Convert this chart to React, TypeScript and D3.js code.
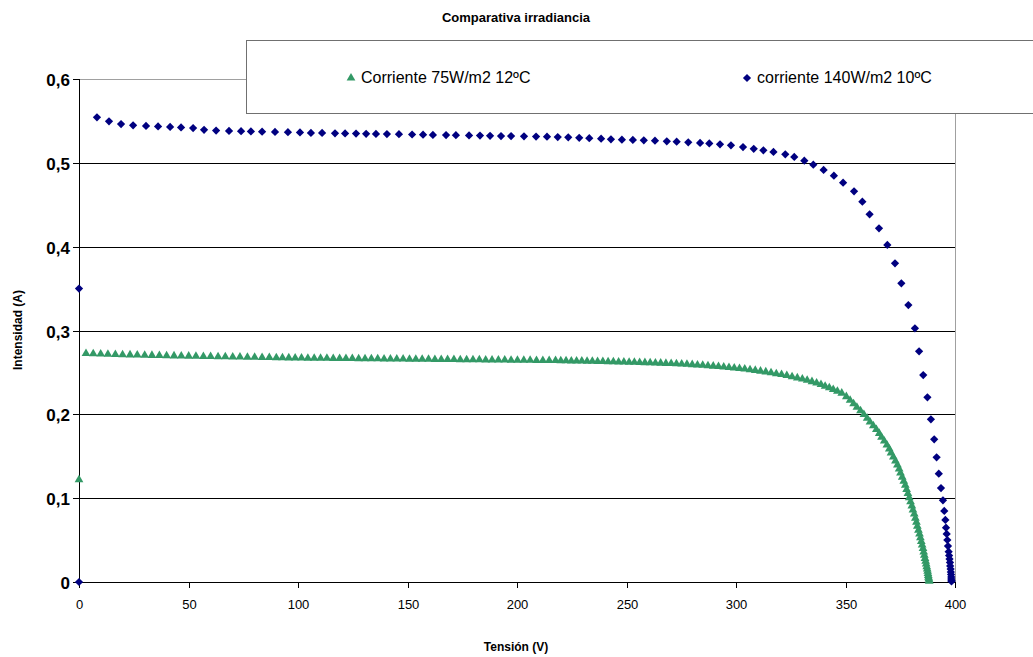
import * as d3 from 'd3'

const W = 1033
const H = 657

const TITLE = 'Comparativa irradiancia'
const X_TITLE = 'Tensión (V)'
const Y_TITLE = 'Intensidad (A)'
const X_TICKS = [0, 50, 100, 150, 200, 250, 300, 350, 400]
const Y_TICKS = [0, 0.1, 0.2, 0.3, 0.4, 0.5, 0.6]

const LABEL_75 = 'Corriente 75W/m2 12ºC'
const LABEL_140 = 'corriente 140W/m2 10ºC'

// [tensión V, intensidad A]
const corriente75: [number, number][] = [
  [0, 0.122],
  [3.2, 0.2725], [6.5, 0.2722], [9.9, 0.2719], [13.2, 0.2716], [16.6, 0.2714], [19.9, 0.2711], [23.3, 0.2709],
  [26.6, 0.2707], [30.0, 0.2705], [33.3, 0.2703], [36.7, 0.2701], [40.0, 0.2699], [43.4, 0.2697], [46.7, 0.2695],
  [50.1, 0.2694], [53.4, 0.2692], [56.8, 0.269], [60.1, 0.2689], [63.5, 0.2687], [66.8, 0.2686], [70.2, 0.2684],
  [73.5, 0.2683], [76.9, 0.2681], [80.2, 0.268], [83.6, 0.2678], [86.9, 0.2677], [90.1, 0.2675],
  [92.9, 0.2674], [95.8, 0.2673], [98.7, 0.2672], [101.6, 0.2671], [104.5, 0.267], [107.4, 0.267], [110.3, 0.2669],
  [113.2, 0.2668], [116.1, 0.2667], [119.0, 0.2666], [121.9, 0.2666], [124.8, 0.2665], [127.7, 0.2664], [130.6, 0.2663],
  [133.5, 0.2662], [136.4, 0.2662], [139.3, 0.2661], [142.2, 0.266], [145.1, 0.2659], [148.0, 0.2659], [150.9, 0.2658],
  [153.8, 0.2657], [156.7, 0.2656], [159.6, 0.2656], [162.5, 0.2655], [165.4, 0.2654], [168.3, 0.2653], [171.2, 0.2653],
  [174.1, 0.2652], [177.0, 0.2651], [179.9, 0.265], [182.8, 0.265], [185.7, 0.2649], [188.6, 0.2648], [191.5, 0.2647],
  [194.4, 0.2647], [197.3, 0.2646], [200.2, 0.2645], [203.1, 0.2645], [206.0, 0.2644], [208.9, 0.2643], [211.8, 0.2643],
  [214.7, 0.2642], [217.6, 0.2641],
  [220.0, 0.264], [222.4, 0.2639], [224.8, 0.2637], [227.2, 0.2636], [229.6, 0.2635], [232.0, 0.2633], [234.4, 0.2632],
  [236.8, 0.2631], [239.2, 0.2629], [241.6, 0.2628], [244.0, 0.2626], [246.4, 0.2625], [248.8, 0.2624], [251.2, 0.2622],
  [253.6, 0.2621], [256.0, 0.2619], [258.4, 0.2617], [260.8, 0.2615], [263.2, 0.2613], [265.6, 0.2611], [268.0, 0.2608],
  [270.4, 0.2606], [272.8, 0.2603], [275.2, 0.26], [277.6, 0.2597], [280.0, 0.2593], [282.4, 0.2589], [284.8, 0.2585],
  [287.2, 0.258], [289.6, 0.2575], [292.0, 0.257], [294.4, 0.2565], [296.8, 0.2559], [299.2, 0.2553], [301.6, 0.2547],
  [304.0, 0.254], [306.4, 0.2532], [308.8, 0.2524], [311.2, 0.2515], [313.6, 0.2506], [316.0, 0.2496], [318.4, 0.2485],
  [320.8, 0.2474], [323.2, 0.2462], [325.6, 0.2449], [328.0, 0.2435], [330.3, 0.2421], [332.5, 0.2406], [334.7, 0.239],
  [336.8, 0.2373], [338.8, 0.2355], [340.7, 0.2336], [342.6, 0.2316], [344.4, 0.2296], [346.3, 0.2275], [348.3, 0.2253],
  [350.4, 0.2211], [352.1, 0.2169], [353.7, 0.2127], [355.2, 0.2085], [356.85, 0.2042], [358.4, 0.1998], [359.9, 0.1954],
  [361.2, 0.1909], [362.7, 0.1864], [364.1, 0.1819], [365.4, 0.1773], [366.45, 0.1727], [367.7, 0.1681], [368.9, 0.1634],
  [370.0, 0.1587], [370.8, 0.154], [371.85, 0.1492], [372.8, 0.1444], [373.7, 0.1396], [374.5, 0.1348], [375.1, 0.13],
  [375.9, 0.1251], [376.6, 0.1202], [377.3, 0.1153], [377.9, 0.1104], [378.5, 0.1055], [379.1, 0.1006], [379.7, 0.0957],
  [380.3, 0.0908], [380.8, 0.0859], [381.4, 0.081], [381.9, 0.0762], [382.4, 0.0714], [382.8, 0.0666], [383.3, 0.0619],
  [383.8, 0.0573], [384.2, 0.0528], [384.6, 0.0484], [385.0, 0.0441], [385.4, 0.0399], [385.7, 0.0358], [386.0, 0.0319],
  [386.3, 0.0282], [386.6, 0.0247], [386.85, 0.0214], [387.1, 0.0183], [387.3, 0.0154], [387.5, 0.0127], [387.65, 0.0102],
  [387.8, 0.0079], [387.9, 0.0058], [388.05, 0.0039], [388.15, 0.0022], [388.25, 0.0008],
]

const corriente140: [number, number][] = [
  [0, 0.35], [0, 0],
  [8.2, 0.5543], [13.7, 0.5496], [19.2, 0.5463], [24.7, 0.5448], [30.6, 0.544], [36.1, 0.5434], [41.6, 0.5428],
  [46.6, 0.5422], [52.1, 0.5415], [57.1, 0.5394], [62.6, 0.5385], [68.5, 0.538], [74.0, 0.5377], [78.5, 0.5374],
  [83.6, 0.5371], [89.5, 0.5368], [95.4, 0.5365], [100.9, 0.5362], [105.9, 0.5357], [111.0, 0.5356], [116.9, 0.5352],
  [121.5, 0.5351], [126.5, 0.5349], [131.1, 0.5346], [135.6, 0.5345], [140.6, 0.5343], [146.1, 0.5341], [152.1, 0.5338],
  [157.1, 0.5336], [161.6, 0.5333], [167.6, 0.5331], [172.1, 0.533], [178.1, 0.5327], [183.1, 0.5325], [187.7, 0.5323],
  [192.7, 0.532], [197.3, 0.5319], [203.2, 0.5317], [208.7, 0.5314], [213.7, 0.5312], [218.6, 0.5308], [223.4, 0.5305],
  [228.4, 0.5298], [233.0, 0.5294], [238.4, 0.5288], [242.9, 0.5281], [247.9, 0.5276], [252.9, 0.5273], [257.9, 0.5269],
  [263.0, 0.5264], [268.4, 0.5257], [272.9, 0.5252], [278.2, 0.5245], [283.6, 0.5237], [287.8, 0.5231], [292.7, 0.5221],
  [297.7, 0.5209], [303.2, 0.5188], [308.1, 0.5167], [312.5, 0.515], [317.1, 0.513], [322.5, 0.5102], [326.6, 0.507],
  [331.2, 0.5026], [335.3, 0.4978], [340.0, 0.4915], [344.7, 0.4847], [348.9, 0.4763], [353.9, 0.4661], [357.7, 0.4537],
  [361.0, 0.4386], [365.3, 0.4219], [369.1, 0.402], [372.6, 0.3802], [375.5, 0.3563], [378.7, 0.3304], [381.7, 0.3026],
  [383.6, 0.2752], [385.5, 0.2469], [387.4, 0.2203], [389.0, 0.1941], [390.5, 0.1702], [391.6, 0.1488], [392.6, 0.1292],
  [393.6, 0.1121], [394.5, 0.0975], [395.1, 0.0847], [395.6, 0.074], [395.9, 0.0648], [396.2, 0.0573], [396.5, 0.0501],
  [396.8, 0.0429], [397.1, 0.0361], [397.3, 0.0316], [397.5, 0.0274], [397.7, 0.0233], [397.8, 0.0191], [398.0, 0.0155],
  [398.1, 0.0119], [398.2, 0.0089], [398.3, 0.006], [398.3, 0.0036], [398.4, 0.0018], [398.4, 0.0006],
]

const GREEN = '#339966'
const NAVY = '#000080'
const FONT = '"Liberation Sans", Arial, sans-serif'

const plot = { left: 79, right: 955, top: 79, bottom: 582 }

export default function App() {
  const x = d3.scaleLinear().domain([0, 400]).range([plot.left, plot.right])
  const y = d3.scaleLinear().domain([0, 0.6]).range([plot.bottom, plot.top])

  const tri = d3.symbol(d3.symbolTriangle, 33)()!
  const dia = d3.symbol(d3.symbolSquare, 34)()!
  const fmtY = (v: number) => d3.format('.1~f')(v).replace('.', ',')

  return (
    <svg width={W} height={H} style={{ position: 'absolute', left: 0, top: 0, background: '#fff' }} fontFamily={FONT}>
      <rect x={0} y={0} width={W} height={H} fill="#fff" />

      {/* rejilla */}
      {Y_TICKS.filter(t => t > 0 && t < 0.6).map(t => (
        <line key={t} x1={plot.left} x2={plot.right} y1={Math.round(y(t)) + 0.5} y2={Math.round(y(t)) + 0.5}
          stroke="#000" strokeWidth={1} />
      ))}
      {/* borde del área de trazado */}
      <rect x={plot.left + 0.5} y={plot.top + 0.5} width={plot.right - plot.left} height={plot.bottom - plot.top}
        fill="none" stroke="#a0a0a0" strokeWidth={1} />

      {/* ejes */}
      <line x1={plot.left + 0.5} x2={plot.left + 0.5} y1={plot.top} y2={plot.bottom + 1} stroke="#000" />
      <line x1={plot.left} x2={plot.right + 1} y1={plot.bottom + 0.5} y2={plot.bottom + 0.5} stroke="#000" />

      {Y_TICKS.map(t => (
        <g key={t} transform={`translate(0,${Math.round(y(t)) + 0.5})`}>
          <line x1={plot.left - 6} x2={plot.left} stroke="#000" />
          <text x={plot.left - 9} y={6} textAnchor="end" fontSize={17} fontWeight="bold" fill="#000">{fmtY(t)}</text>
        </g>
      ))}
      {X_TICKS.map(t => (
        <g key={t} transform={`translate(${Math.round(x(t)) + 0.5},0)`}>
          <line y1={plot.bottom} y2={plot.bottom + 6} stroke="#000" />
          <text y={609} textAnchor="middle" fontSize={13} fill="#000">{t}</text>
        </g>
      ))}

      {/* series */}
      {corriente75.map((d, i) => (
        <path key={'g' + i} d={tri} transform={`translate(${x(d[0])},${y(d[1])})`} fill={GREEN} />
      ))}
      {corriente140.map((d, i) => (
        <path key={'b' + i} d={dia} transform={`translate(${x(d[0])},${y(d[1])}) rotate(45)`} fill={NAVY} />
      ))}

      {/* títulos */}
      <text x={516} y={22} textAnchor="middle" fontSize={13} fontWeight="bold">{TITLE}</text>
      <text x={516} y={651} textAnchor="middle" fontSize={12} fontWeight="bold">{X_TITLE}</text>
      <text transform="translate(22,330) rotate(-90)" textAnchor="middle" fontSize={12} fontWeight="bold">{Y_TITLE}</text>

      {/* leyenda */}
      <rect x={246.5} y={40.5} width={800} height={73} fill="#fff" stroke="#707070" />
      <path d={tri} transform="translate(351,78)" fill={GREEN} />
      <text x={361} y={83} fontSize={16}>{LABEL_75}</text>
      <path d={dia} transform="translate(747,78) rotate(45)" fill={NAVY} />
      <text x={757} y={83} fontSize={16}>{LABEL_140}</text>
    </svg>
  )
}
